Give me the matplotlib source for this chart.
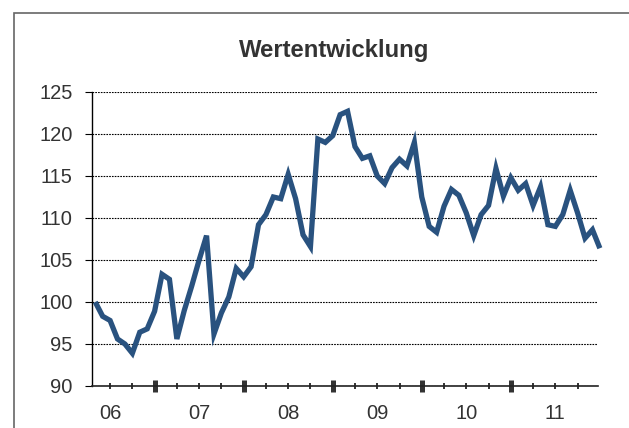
import matplotlib
matplotlib.use("Agg")
import matplotlib.pyplot as plt
from matplotlib.patches import Rectangle
from matplotlib.ticker import FixedLocator, FuncFormatter
import numpy as np

# Monthly index values, end of month Apr 2006 .. Dec 2011
values = [100.0, 98.3, 97.8, 95.6, 95.0, 93.9, 96.4, 96.8, 98.9, 103.3,
          102.7, 95.6, 99.0, 101.9, 105.0, 107.9, 96.2, 98.7, 100.6, 104.0,
          103.0, 104.2, 109.2, 110.4, 112.5, 112.3, 115.2, 112.3, 108.0, 106.6,
          119.4, 119.0, 119.8, 122.3, 122.7, 118.5, 117.1, 117.4, 115.0, 114.1,
          116.0, 117.0, 116.2, 119.0, 112.5, 109.0, 108.3, 111.4, 113.4, 112.7,
          110.6, 107.9, 110.4, 111.5, 115.9, 112.6, 114.8, 113.3, 114.1, 111.5,
          113.7, 109.2, 109.0, 110.4, 113.3, 110.6, 107.6, 108.6, 106.4]
start_year = 2006
start_month = 4
years = [2006, 2007, 2008, 2009, 2010, 2011]
year_labels = ["06", "07", "08", "09", "10", "11"]
y_ticks = [90, 95, 100, 105, 110, 115, 120, 125]
title = "Wertentwicklung"

x = [start_year + (start_month + i) / 12.0 for i in range(len(values))]

plt.rcParams['font.family'] = ['Liberation Sans', 'DejaVu Sans']
W, H = 629, 428
fig = plt.figure(figsize=(W / 100, H / 100), dpi=100)
fig.patch.set_facecolor('white')

# outer frame
fig.patches.append(Rectangle((14 / W, -0.1), 1.2, (H - 13) / H + 0.1,
                             transform=fig.transFigure, fill=False,
                             edgecolor='#666666', linewidth=1.2))

ax = fig.add_axes([92 / W, (H - 386) / H, (598 - 92) / W, (386 - 92) / H])
ax.plot(x, values, color='#29527f', linewidth=3.8, solid_joinstyle='miter',
        solid_capstyle='butt', clip_on=False, zorder=3)

ax.set_xlim(2006.297, 2011.979)
ax.set_ylim(90, 125)
ax.set_yticks(y_ticks)
ax.set_yticklabels([str(v) for v in y_ticks])
ax.yaxis.grid(True, color='black', linestyle=(0, (1.5, 1.0)), linewidth=0.8)
ax.set_axisbelow(True)

for s in ['top', 'right']:
    ax.spines[s].set_visible(False)
ax.spines['left'].set_color('black')
ax.spines['left'].set_linewidth(1.0)
ax.spines['bottom'].set_color('#222222')
ax.spines['bottom'].set_linewidth(1.2)

ax.tick_params(axis='y', direction='out', length=5, width=0.8, color='black',
               labelsize=14.5, labelcolor='#333333', pad=9)

major = [y + 1 for y in years[:-1]]
quarters = [y + q for y in years for q in (0.25, 0.5, 0.75)]
quarters = [q for q in quarters if 2006.297 <= q <= 2011.979]
ax.xaxis.set_major_locator(FixedLocator(major))
ax.xaxis.set_minor_locator(FixedLocator(quarters))
lab = {y + 0.5: l for y, l in zip(years, year_labels)}
ax.xaxis.set_major_formatter(FuncFormatter(lambda v, p: ''))
ax.xaxis.set_minor_formatter(FuncFormatter(
    lambda v, p: next((l for k, l in lab.items() if abs(k - v) < 1e-6), '')))
ax.tick_params(axis='x', which='major', direction='inout', length=8.5, width=3.6,
               color='#333333')
ax.tick_params(axis='x', which='minor', direction='inout', length=4, width=1.4,
               color='#333333', labelsize=14.5, labelcolor='#333333', pad=11)

fig.text(334 / W, (H - 51) / H, title, ha='center', va='center',
         fontsize=17.2, fontweight='bold', color='#333333')

fig.savefig('out.png', dpi=100, facecolor='white')
